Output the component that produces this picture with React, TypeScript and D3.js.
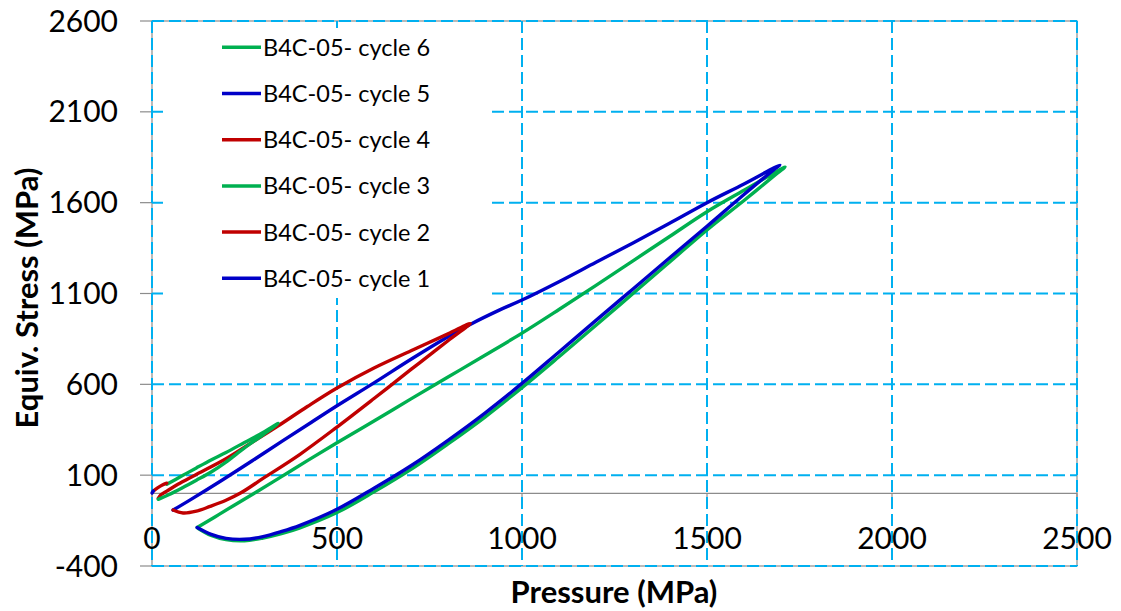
import React from "react";
import * as d3 from "d3";

type Pt = [number, number];

// Pressure (MPa), equivalent stress (MPa) for each load cycle
const cycle1: Pt[] = [[0, 2], [2, 8], [4, 13]];
const cycle2: Pt[] = [[4, 14], [15, 30], [28, 46], [40, 56]];
const cycle3: Pt[] = [
  [40, 50], [80, 95], [120, 140], [161, 185], [200, 225], [250, 280], [300, 335], [341, 385],
  [300, 322], [250, 250], [200, 172], [161, 119], [120, 72], [80, 28], [45, -8], [17, -33],
];
const cycle4: Pt[] = [
  [17, -28], [24, -8], [40, 12], [70, 50], [116, 100], [200, 190], [278, 290], [340, 370],
  [420, 478], [500, 580], [600, 690], [700, 785], [800, 878], [860, 935],
  [800, 840], [724, 720], [700, 682], [600, 522], [500, 365], [400, 215], [300, 82],
  [238, 0], [200, -38], [157, -72], [120, -98], [84, -108], [57, -92],
];
const cycle5: Pt[] = [
  [57, -92], [100, -40], [189, 72], [270, 178], [354, 290], [430, 390], [500, 482], [600, 608],
  [700, 738], [800, 862], [860, 930], [940, 1010], [1000, 1064], [1100, 1165], [1200, 1272],
  [1300, 1378], [1400, 1488], [1500, 1600], [1600, 1703], [1697, 1807],
  [1680, 1780], [1600, 1645], [1500, 1470], [1400, 1298], [1300, 1125], [1200, 952],
  [1100, 778], [1000, 605], [900, 442], [800, 292], [700, 152], [600, 28], [500, -88],
  [400, -176], [350, -210], [300, -238], [250, -253], [200, -248], [160, -226], [122, -188],
];
const cycle6: Pt[] = [
  [122, -188], [170, -130], [220, -68], [280, 5], [350, 92], [420, 180], [500, 278], [600, 398],
  [700, 520], [800, 640], [900, 760], [1000, 882], [1100, 1012], [1200, 1145], [1300, 1280],
  [1400, 1415], [1500, 1550], [1600, 1668], [1711, 1796],
  [1690, 1762], [1600, 1612], [1500, 1450], [1400, 1275], [1300, 1100], [1200, 925],
  [1100, 752], [1000, 582], [900, 420], [800, 272], [700, 132], [600, 8], [500, -106],
  [400, -190], [350, -222], [300, -246], [250, -261], [200, -255], [160, -232], [124, -192],
];

const seriesNames = [
  "B4C-05- cycle 6",
  "B4C-05- cycle 5",
  "B4C-05- cycle 4",
  "B4C-05- cycle 3",
  "B4C-05- cycle 2",
  "B4C-05- cycle 1",
];
const seriesData: Pt[][] = [cycle6, cycle5, cycle4, cycle3, cycle2, cycle1];
const seriesColors = ["#00B050", "#0000C8", "#C00000", "#00B050", "#C00000", "#0000C8"];

const xTicks = [0, 500, 1000, 1500, 2000, 2500];
const yTicks = [-400, 100, 600, 1100, 1600, 2100, 2600];

const W = 1121;
const H = 611;
const left = 152;
const right = 1077;
const top = 21;
const bottom = 566;

export default function App() {
  const x = d3.scaleLinear().domain([0, 2500]).range([left, right]);
  const y = d3.scaleLinear().domain([-400, 2600]).range([bottom, top]);
  const line = d3
    .line<Pt>()
    .x((d) => x(d[0]))
    .y((d) => y(d[1]))
    .curve(d3.curveCatmullRom.alpha(0.5));

  const font = "Lato, 'Open Sans', sans-serif";
  const grid = "#00B0F0";
  const axisGray = "#8C8C8C";

  const legX = 163;
  const legY = 28;
  const legRow = 46.2;

  return (
    <svg
      width={W}
      height={H}
      style={{ position: "absolute", left: 0, top: 0, background: "#fff" }}
      fontFamily={font}
    >
      <rect x={0} y={0} width={W} height={H} fill="#fff" />
      {/* plot frame */}
      <rect x={left} y={top} width={right - left} height={bottom - top} fill="none" stroke={axisGray} strokeWidth={1.2} />
      {/* zero line */}
      <line x1={left} x2={right} y1={y(0)} y2={y(0)} stroke={axisGray} strokeWidth={1.2} />
      {xTicks.map((t) => (
        <line key={"xt" + t} x1={x(t)} x2={x(t)} y1={y(0)} y2={y(0) + 6} stroke={axisGray} strokeWidth={1.2} />
      ))}
      {yTicks.map((t) => (
        <line key={"yt" + t} x1={left - 12} x2={left} y1={y(t)} y2={y(t)} stroke={axisGray} strokeWidth={1.2} />
      ))}
      {/* dashed grid */}
      {yTicks.map((t) => (
        <line key={"gy" + t} x1={left} x2={right} y1={y(t)} y2={y(t)} stroke={grid} strokeWidth={2} strokeDasharray="12 5" />
      ))}
      {xTicks.map((t) => (
        <line key={"gx" + t} x1={x(t)} x2={x(t)} y1={top} y2={bottom} stroke={grid} strokeWidth={2} strokeDasharray="12 5" />
      ))}
      {/* tick labels */}
      {yTicks.map((t) => (
        <text key={"yl" + t} x={118} y={y(t)} dy="0.35em" textAnchor="end" fontSize={30} fill="#000">
          {t}
        </text>
      ))}
      {xTicks.map((t) => (
        <text key={"xl" + t} x={x(t)} y={538} dy="0.35em" textAnchor="middle" fontSize={30} fill="#000">
          {t}
        </text>
      ))}
      {/* data */}
      {seriesData.map((d, i) => (
        <path
          key={"s" + i}
          d={line(d) || ""}
          fill="none"
          stroke={seriesColors[i]}
          strokeWidth={3.4}
          strokeLinejoin="round"
          strokeLinecap="round"
        />
      ))}
      {/* legend */}
      <rect x={legX} y={legY} width={324} height={270} fill="#fff" />
      {seriesNames.map((n, i) => {
        const cy = 47.3 + i * legRow;
        return (
          <g key={"lg" + i}>
            <line x1={222} x2={261} y1={cy} y2={cy} stroke={seriesColors[i]} strokeWidth={3.5} />
            <text x={263} y={cy} dy="0.36em" fontSize={23.5} fill="#000">
              {n}
            </text>
          </g>
        );
      })}
      {/* axis titles */}
      <text x={614} y={592} dy="0.35em" textAnchor="middle" fontSize={31} fontWeight="bold" fill="#000">
        Pressure (MPa)
      </text>
      <text
        transform={`translate(27,298) rotate(-90)`}
        dy="0.35em"
        textAnchor="middle"
        fontSize={31}
        fontWeight="bold"
        fill="#000"
      >
        Equiv. Stress (MPa)
      </text>
    </svg>
  );
}
